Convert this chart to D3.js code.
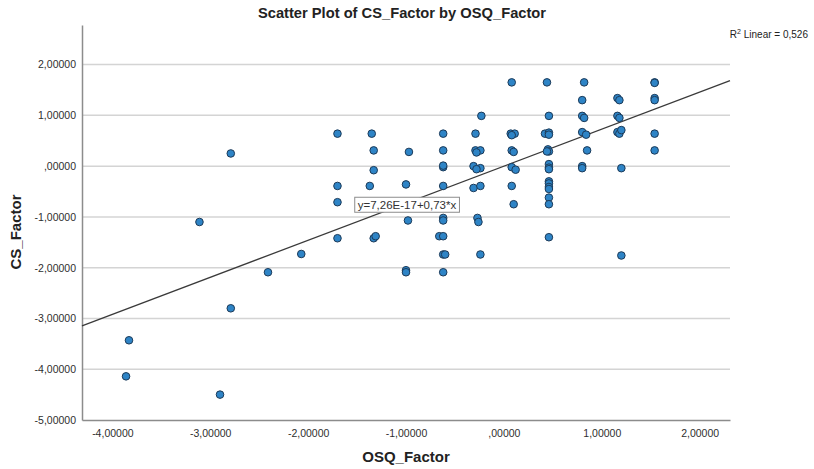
<!DOCTYPE html>
<html>
<head>
<meta charset="utf-8">
<script src="https://cdn.jsdelivr.net/npm/d3@7"></script>
<style>
  html, body { margin: 0; padding: 0; background: #fff; }
  svg { display: block; font-family: "Liberation Sans", Arial, sans-serif; }
</style>
</head>
<body>
<svg id="chart" width="814" height="469"></svg>
<script>
// OSQ_Factor (x) and CS_Factor (y) scores, one entry per case
const osqFactor = [
  -3.86, -3.83, -3.11, -2.90, -2.79, -2.79, -2.41, -2.07,
  -1.70, -1.70, -1.70, -1.70,
  -1.35, -1.33, -1.33, -1.37, -1.33, -1.31,
  -0.97, -1.00, -0.98, -1.00, -1.00,
  -0.62, -0.62, -0.62, -0.62, -0.62, -0.62, -0.62, -0.66, -0.62, -0.62, -0.60, -0.62,
  -0.23, -0.29, -0.29, -0.24, -0.28, -0.31, -0.24, -0.28, -0.31, -0.24, -0.27, -0.26, -0.24,
  0.08, 0.07, 0.11, 0.08, 0.08, 0.10, 0.08, 0.12, 0.08, 0.10,
  0.44, 0.46, 0.42, 0.46, 0.46, 0.45, 0.46, 0.44, 0.46, 0.46, 0.46, 0.46, 0.46, 0.46, 0.46, 0.46, 0.46, 0.46,
  0.82, 0.80, 0.80, 0.82, 0.80, 0.84, 0.85, 0.80, 0.80,
  1.16, 1.18, 1.16, 1.18, 1.16, 1.18, 1.20, 1.20, 1.20,
  1.54, 1.54, 1.54, 1.54, 1.54, 1.54
];
const csFactor = [
  -4.14, -3.43, -1.10, -4.50, 0.25, -2.80, -2.09, -1.73,
  0.64, -0.39, -0.71, -1.42,
  0.64, 0.31, -0.08, -0.39, -1.42, -1.38,
  0.28, -0.36, -1.07, -2.05, -2.09,
  0.64, 0.31, -0.02, 0.01, -0.39, -1.02, -1.07, -1.38, -1.38, -1.74, -1.74, -2.09,
  0.99, 0.64, 0.31, 0.31, 0.27, 0.00, -0.04, -0.06, -0.43, -0.39, -1.02, -1.10, -1.74,
  1.65, 0.64, 0.64, 0.61, 0.31, 0.28, -0.02, -0.07, -0.39, -0.75,
  1.65, 0.99, 0.64, 0.66, 0.62, 0.33, 0.29, 0.29, 0.04, -0.03, -0.06, -0.30, -0.34, -0.41, -0.45, -0.62, -0.75, -1.40,
  1.65, 1.30, 0.99, 0.95, 0.67, 0.62, 0.31, 0.00, -0.04,
  1.34, 1.30, 0.99, 0.95, 0.67, 0.64, 0.71, -0.04, -1.76,
  1.65, 1.64, 1.34, 1.30, 0.64, 0.31
];

const xTicks = [-4, -3, -2, -1, 0, 1, 2];
const yTicks = [-5, -4, -3, -2, -1, 0, 1, 2];
const xDomain = [-4.31, 2.31];
const yDomain = [-5, 2.78];

// Linear fit: CS_Factor = 7.26E-17 + 0.73 * OSQ_Factor
const fitIntercept = 7.26e-17;
const fitSlope = 0.73;
const fitLabel = "y=7,26E-17+0,73*x";
const fitLabelAt = [-0.99, -0.76];
const rSquared = "0,526";

const titleText = "Scatter Plot of CS_Factor by OSQ_Factor";
const xTitle = "OSQ_Factor";
const yTitle = "CS_Factor";

// Decimal comma with five places, ",00000" for zero
const fmt = v => {
  let s = Math.abs(v).toFixed(5).replace(".", ",");
  if (s.startsWith("0,")) s = s.slice(1);
  return (v < 0 ? "-" : "") + s;
};

const svg = d3.select("#chart");
const m = { left: 82, right: 730, top: 25, bottom: 420 };

const x = d3.scaleLinear().domain(xDomain).range([m.left, m.right]);
const y = d3.scaleLinear().domain(yDomain).range([m.bottom, m.top]);

svg.append("rect").attr("width", 814).attr("height", 469).attr("fill", "#fff");

// Horizontal grid lines
svg.append("g")
  .selectAll("line")
  .data(yTicks.filter(t => t > yDomain[0]))
  .join("line")
  .attr("x1", m.left).attr("x2", m.right)
  .attr("y1", d => y(d)).attr("y2", d => y(d))
  .attr("stroke", "#d4d4d4").attr("stroke-width", 1.5);

// Axes (no tick marks, labels only)
const yAxis = svg.append("g")
  .attr("transform", `translate(${m.left},0)`)
  .call(d3.axisLeft(y).tickValues(yTicks).tickFormat(fmt).tickSize(0).tickPadding(6));
const xAxis = svg.append("g")
  .attr("transform", `translate(0,${m.bottom})`)
  .call(d3.axisBottom(x).tickValues(xTicks).tickFormat(fmt).tickSize(0).tickPadding(10));

[yAxis, xAxis].forEach(g => {
  g.select(".domain").attr("stroke", "#8c8c8c").attr("stroke-width", 1.5);
  g.selectAll("text").attr("fill", "#2e2e2e").style("font-size", "10.5px")
    .style("font-family", "'Liberation Sans', Arial, sans-serif");
});

// Regression line across the full x range
svg.append("line")
  .attr("x1", x(xDomain[0])).attr("y1", y(fitIntercept + fitSlope * xDomain[0]))
  .attr("x2", x(xDomain[1])).attr("y2", y(fitIntercept + fitSlope * xDomain[1]))
  .attr("stroke", "#3a3a3a").attr("stroke-width", 1.3);

// Points
const pts = osqFactor.map((v, i) => [v, csFactor[i]]);
svg.append("g")
  .selectAll("circle")
  .data(pts)
  .join("circle")
  .attr("cx", d => x(d[0])).attr("cy", d => y(d[1]))
  .attr("r", 3.8)
  .attr("fill", "#2e84c6")
  .attr("stroke", "#1c3a58")
  .attr("stroke-width", 1);

// Fit equation label in a box
const eq = svg.append("g")
  .attr("transform", `translate(${x(fitLabelAt[0])},${y(fitLabelAt[1])})`);
const eqText = eq.append("text")
  .attr("text-anchor", "middle").attr("dy", "0.35em")
  .attr("fill", "#333").style("font-size", "11.5px")
  .text(fitLabel);
const bb = eqText.node().getBBox();
eq.insert("rect", "text")
  .attr("x", bb.x - 3).attr("y", bb.y - 1.5)
  .attr("width", bb.width + 6).attr("height", bb.height + 3)
  .attr("fill", "#fff").attr("stroke", "#8c8c8c").attr("stroke-width", 1);

// R squared note
const r2 = svg.append("text")
  .attr("x", 808).attr("y", 38)
  .attr("text-anchor", "end")
  .attr("fill", "#222").style("font-size", "10px");
r2.append("tspan").text("R");
r2.append("tspan").attr("dy", -4).style("font-size", "7px").text("2");
r2.append("tspan").attr("dy", 4).text(" Linear = " + rSquared);

// Titles
svg.append("text")
  .attr("x", 402).attr("y", 18)
  .attr("text-anchor", "middle")
  .attr("fill", "#222").style("font-size", "14.7px").style("font-weight", "bold")
  .text(titleText);

svg.append("text")
  .attr("x", (m.left + m.right) / 2).attr("y", 462)
  .attr("text-anchor", "middle")
  .attr("fill", "#222").style("font-size", "15px").style("font-weight", "bold")
  .text(xTitle);

svg.append("text")
  .attr("transform", `translate(21,232) rotate(-90)`)
  .attr("text-anchor", "middle")
  .attr("fill", "#222").style("font-size", "15px").style("font-weight", "bold")
  .text(yTitle);
</script>
</body>
</html>
